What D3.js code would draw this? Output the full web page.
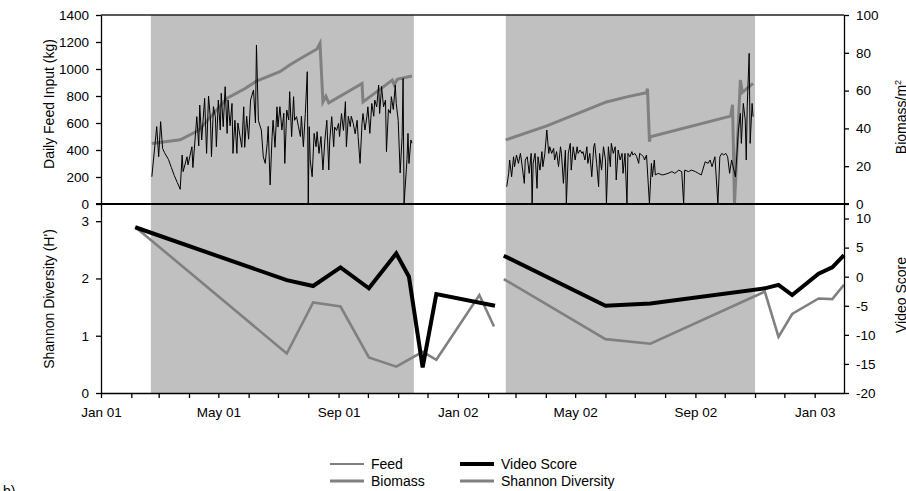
<!DOCTYPE html>
<meta charset="utf-8">
<style>

html,
body {
  margin: 0;
  overflow: hidden;
  background: #fff;
}

text {
  font-family: "Liberation Sans", Arial, sans-serif;
  fill: #000;
}

.axis path,
.axis line {
  stroke: #000;
  stroke-width: 1.3;
}

</style>
<body>
<script src="https://cdn.jsdelivr.net/npm/d3@7"></script>
<script>

var width = 906,
 height = 491,
 left = 101,
 right = 844,
 top1 = 15,
 mid = 204,
 bottom = 393;

// day numbers count from Jan 1 2001
var startDate = new Date(2001, 0, 1);
var endDay = 760;

var shadeDays = [[51, 320], [414, 669]];

var feedTicks = [0, 200, 400, 600, 800, 1000, 1200, 1400];
var biomassTicks = [0, 20, 40, 60, 80, 100];
var shannonTicks = [0, 1, 2, 3];
var videoTicks = [-20, -15, -10, -5, 0, 5, 10];

// daily feed input (kg): [day, kg]
var feed2001 = [[52,202],[57,573],[59,350],[61,610],[63,412],[65,380],[69,330],[72,270],[75,210],[78,160],
  [81,109],[83,363],[84,240],[88,350],[89,290],[93,424],[94,270],[98,647],[100,430],[101,733],
  [103,474],[106,783],[108,375],[110,800],[112,622],[113,350],[115,721],[117,647],[118,424],[120,770],
  [122,548],[123,820],[125,573],[127,869],[129,523],[130,770],[132,580],[134,745],[135,375],[137,620],
  [139,375],[140,600],[144,420],[146,720],[147,420],[149,650],[151,480],[153,770],[156,844],[158,600],
  [159,1178],[161,620],[163,570],[164,548],[166,350],[168,301],[170,449],[171,575],[173,141],[175,500],
  [176,620],[178,420],[180,720],[181,570],[183,721],[185,548],[187,672],[188,301],[190,696],[192,622],
  [193,832],[195,499],[197,795],[198,620],[200,647],[202,573],[204,500],[205,650],[207,424],[209,670],
  [211,980],[212,0],[213,573],[214,326],[216,202],[218,523],[220,424],[221,536],[223,375],[225,500],
  [227,252],[229,474],[231,620],[233,252],[234,474],[236,647],[238,424],[239,570],[241,545],[243,597],
  [244,500],[246,670],[248,545],[250,758],[251,424],[253,650],[255,573],[256,650],[258,597],[260,520],
  [262,620],[263,499],[265,301],[267,597],[268,670],[270,548],[272,650],[273,720],[275,523],[277,745],
  [279,650],[280,770],[282,720],[284,881],[285,670],[287,870],[289,720],[291,770],[292,388],[294,700],
  [296,672],[297,795],[299,700],[301,882],[302,745],[304,620],[306,230],[308,500],[309,930],[310,0],
  [313,330],[314,523],[315,300],[317,474],[318,450]];

var feed2002 = [[415,128],[417,227],[418,326],[420,202],[422,350],[423,276],[425,363],[427,301],[429,375],[430,326],
  [433,153],[434,326],[436,350],[438,227],[440,375],[441,0],[442,301],[444,375],[446,116],[447,350],
  [449,251],[451,388],[452,276],[454,375],[456,548],[458,375],[459,424],[461,375],[463,412],[464,326],
  [466,388],[468,276],[470,424],[471,375],[473,153],[475,400],[476,0],[478,375],[480,449],[481,251],
  [483,424],[485,326],[487,424],[488,375],[490,400],[492,375],[493,388],[495,326],[497,424],[498,301],
  [500,375],[502,202],[504,424],[505,449],[507,301],[509,128],[510,375],[512,251],[514,424],[516,326],
  [517,0],[519,424],[521,276],[522,449],[524,375],[526,424],[527,178],[529,400],[531,326],[533,375],
  [534,227],[536,375],[538,0],[539,375],[541,350],[543,388],[544,363],[546,375],[548,350],[550,301],
  [551,375],[553,363],[555,350],[556,326],[558,363],[561,0],[563,301],[564,202],[566,326],[567,215],
  [570,227],[574,215],[577,220],[580,227],[584,240],[587,227],[591,251],[594,240],[596,0],[597,251],
  [601,240],[604,251],[608,240],[611,227],[614,215],[618,313],[621,301],[623,326],[625,276],[628,350],
  [631,0],[633,350],[635,375],[637,363],[639,375],[641,350],[643,227],[645,326],[649,200],[652,548],
  [654,672],[655,449],[657,745],[659,622],[660,326],[661,720],[663,1116],[664,449],[666,745],[667,647]];

// biomass per m2: [day, value]
var biomass2001 = [[52,32],[81,34],[100,39],[129,56],[147,61],[159,65],[183,70],[193,73.5],[204,77],
  [221,82],[224,85],[227,54],[230,57],[233,53.5],[267,63.8],[268,54],[298,65.6],[300,63],[303,66],[318,67.7]];

var biomass2002 = [[414,33.9],[456,41.3],[517,54],[539,56.8],[558,58.9],[559,61],[561,33],[562,35.6],
  [644,46.5],[646,52.5],[648,0],[654,65.6],[656,59],[667,63.8]];

// video score and Shannon diversity (H'): [day, value]
var video2001 = [[35,8.5],[190,-0.6],[217,-1.6],[245,1.6],[274,-2.0],[302,4.0],[315,0.0],[329,-15.6],[343,-3.0],[403,-5.0]];
var video2002 = [[412,3.6],[516,-5.0],[562,-4.6],[679,-2.0],[693,-1.4],[707,-3.15],[734,0.5],[748,1.6],[760,3.7]];

var shannon2001 = [[35,2.9],[190,0.69],[217,1.58],[245,1.51],[274,0.62],[302,0.46],[329,0.72],[343,0.58],[387,1.71],[402,1.16]];
var shannon2002 = [[412,1.99],[516,0.94],[562,0.86],[679,1.77],[693,0.98],[707,1.38],[734,1.65],[748,1.64],[760,1.89]];

var legendNames = ["Feed", "Biomass", "Video Score", "Shannon Diversity"];

function day(d) { return d3.timeDay.offset(startDate, d); }

var x = d3.scaleTime().domain([day(0), day(endDay)]).range([left, right]);
var yFeed = d3.scaleLinear().domain([0, 1400]).range([mid, top1]);
var yBio = d3.scaleLinear().domain([0, 100]).range([mid, top1]);
var yShan = d3.scaleLinear().domain([0, 3.3]).range([bottom, mid]);
var yVid = d3.scaleLinear().domain([-20, 12.5]).range([bottom, mid]);

var svg = d3.select("body")
  .append("svg")
  .attr("width", width)
  .attr("height", height);

// grey shaded periods
svg.selectAll(".shade")
  .data(shadeDays)
  .enter().append("rect")
  .attr("x", function(d) { return x(day(d[0])); })
  .attr("width", function(d) { return x(day(d[1])) - x(day(d[0])); })
  .attr("y", top1)
  .attr("height", bottom - top1)
  .attr("fill", "#c0c0c0");

function lineOf(y) {
  return d3.line()
    .x(function(d) { return x(day(d[0])); })
    .y(function(d) { return y(d[1]); });
}

function drawLine(data, y, color, w) {
  svg.append("path")
    .datum(data)
    .attr("d", lineOf(y))
    .attr("fill", "none")
    .attr("stroke", color)
    .attr("stroke-width", w)
    .attr("stroke-linejoin", "miter");
}

drawLine(biomass2001, yBio, "#808080", 3);
drawLine(biomass2002, yBio, "#808080", 3);
drawLine(feed2001, yFeed, "#000", 1);
drawLine(feed2002, yFeed, "#000", 1);

drawLine(shannon2001, yShan, "#808080", 2.6);
drawLine(shannon2002, yShan, "#808080", 2.6);
drawLine(video2001, yVid, "#000", 4);
drawLine(video2002, yVid, "#000", 4);

// frame lines
svg.append("line")
  .attr("x1", left).attr("x2", right)
  .attr("y1", top1).attr("y2", top1)
  .attr("stroke", "#222").attr("stroke-width", 1.5);

svg.append("line")
  .attr("x1", left - 5).attr("x2", right + 5)
  .attr("y1", mid).attr("y2", mid)
  .attr("stroke", "#000").attr("stroke-width", 2);

function plain(d) { return String(d); }

function styleAxis(g) {
  g.attr("class", "axis");
  g.selectAll("text").style("font-size", "13.5px").attr("fill", "#000");
}

svg.append("g")
  .attr("transform", "translate(" + left + ",0)")
  .call(d3.axisLeft(yFeed).tickValues(feedTicks).tickFormat(plain).tickSize(5).tickPadding(7).tickSizeOuter(0))
  .call(styleAxis);

svg.append("g")
  .attr("transform", "translate(" + left + ",0)")
  .call(d3.axisLeft(yShan).tickValues(shannonTicks).tickFormat(plain).tickSize(5).tickPadding(7).tickSizeOuter(0))
  .call(styleAxis);

svg.append("g")
  .attr("transform", "translate(" + right + ",0)")
  .call(d3.axisRight(yBio).tickValues(biomassTicks).tickFormat(plain).tickSize(5).tickPadding(7).tickSizeOuter(0))
  .call(styleAxis);

svg.append("g")
  .attr("transform", "translate(" + right + ",0)")
  .call(d3.axisRight(yVid).tickValues(videoTicks).tickFormat(plain).tickSize(5).tickPadding(7).tickSizeOuter(0))
  .call(styleAxis);

var monthFmt = d3.timeFormat("%b %y");
svg.append("g")
  .attr("transform", "translate(0," + bottom + ")")
  .call(d3.axisBottom(x)
    .ticks(d3.timeMonth.every(1))
    .tickSize(5)
    .tickPadding(9)
    .tickSizeOuter(0)
    .tickFormat(function(d) { return d.getMonth() % 4 === 0 ? monthFmt(d) : ""; }))
  .call(styleAxis);

// axis titles
svg.append("text")
  .attr("transform", "translate(54,104) rotate(-90)")
  .attr("text-anchor", "middle")
  .style("font-size", "14px")
  .text("Daily Feed Input (kg)");

svg.append("text")
  .attr("transform", "translate(54,299) rotate(-90)")
  .attr("text-anchor", "middle")
  .style("font-size", "14px")
  .text("Shannon Diversity (H')");

var bioTitle = svg.append("text")
  .attr("transform", "translate(906,117) rotate(-90)")
  .attr("text-anchor", "middle")
  .style("font-size", "14px");
bioTitle.append("tspan").text("Biomass/m");
bioTitle.append("tspan").attr("dy", -5).style("font-size", "9px").text("2");

svg.append("text")
  .attr("transform", "translate(906,295) rotate(-90)")
  .attr("text-anchor", "middle")
  .style("font-size", "14px")
  .text("Video Score");

// legend
var legend = [
  {name: legendNames[0], x: 330, y: 464, color: "#000", w: 1},
  {name: legendNames[1], x: 330, y: 481, color: "#808080", w: 3},
  {name: legendNames[2], x: 460, y: 464, color: "#000", w: 4},
  {name: legendNames[3], x: 460, y: 481, color: "#808080", w: 3}
];

var lg = svg.selectAll(".legend")
  .data(legend)
  .enter().append("g")
  .attr("transform", function(d) { return "translate(" + d.x + "," + d.y + ")"; });

lg.append("line")
  .attr("x1", 0).attr("x2", 34)
  .attr("stroke", function(d) { return d.color; })
  .attr("stroke-width", function(d) { return d.w; });

lg.append("text")
  .attr("x", 41)
  .attr("dy", "0.35em")
  .style("font-size", "14px")
  .text(function(d) { return d.name; });

svg.append("text")
  .attr("x", 3)
  .attr("y", 496)
  .style("font-size", "14px")
  .text("b)");

</script>
